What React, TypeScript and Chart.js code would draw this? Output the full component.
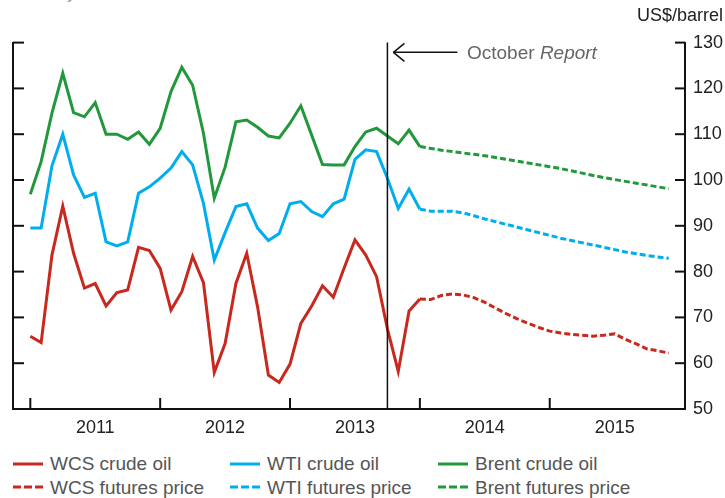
import React, { useEffect, useRef } from "react";
import { Chart, registerables } from "chart.js";

Chart.register(...registerables);

// Months indexed from January 2011 (index 0)
const yearLabels = ["2011", "2012", "2013", "2014", "2015"];
const yTicks = [50, 60, 70, 80, 90, 100, 110, 120, 130];

const wcsCrude = [
  65.9, 64.5, 83.6, 94.3, 84.0, 76.4, 77.4, 72.5, 75.4, 76.0, 85.3, 84.6,
  80.7, 71.6, 75.6, 83.3, 77.6, 58.0, 64.3, 77.4, 84.0, 72.3, 57.4, 55.8,
  59.8, 68.7, 72.5, 76.9, 74.4, 80.8, 86.9, 83.6, 78.9, 67.5, 58.2, 71.4,
  74.0,
];
const wtiCrude = [
  89.5, 89.5, 103.1, 110.0, 101.1, 96.2, 97.1, 86.5, 85.6, 86.5, 97.1, 98.5,
  100.4, 102.6, 106.2, 103.3, 94.9, 82.5, 88.5, 94.2, 94.8, 89.5, 86.8, 88.3,
  94.8, 95.3, 93.1, 92.0, 94.8, 95.8, 104.5, 106.6, 106.2, 100.4, 93.8, 98.0,
  93.6,
];
const brentCrude = [
  96.9, 104.0, 114.6, 123.3, 114.7, 113.8, 116.9, 110.0, 110.0, 108.9, 110.5, 107.8,
  111.3, 119.3, 124.6, 120.7, 110.2, 96.0, 102.8, 112.7, 113.1, 111.5, 109.6, 109.2,
  112.4, 116.2, 109.8, 103.4, 103.3, 103.3, 107.3, 110.5, 111.3, 109.6, 107.9, 110.9,
  107.3,
];

const futuresStartIndex = 36;
const wcsFutures = [
  74.0, 73.9, 74.8, 75.1, 74.9, 74.3, 73.3, 72.0, 70.8, 69.7, 68.7, 67.8,
  67.0, 66.6, 66.3, 66.1, 65.9, 66.1, 66.4, 65.2, 64.2, 63.1, 62.7, 62.2,
];
const wtiFutures = [
  93.6, 93.2, 93.2, 93.2, 92.8, 92.2, 91.5, 90.9, 90.3, 89.7, 89.1, 88.5,
  87.9, 87.3, 86.8, 86.3, 85.8, 85.3, 84.8, 84.3, 83.9, 83.5, 83.2, 82.9,
];
const brentFutures = [
  107.3, 106.9, 106.5, 106.2, 105.9, 105.6, 105.3, 104.9, 104.5, 104.1, 103.7, 103.3,
  102.9, 102.5, 102.0, 101.5, 101.0, 100.5, 100.1, 99.7, 99.3, 98.9, 98.5, 98.1,
];

const reportMonthIndex = 33; // October 2013

const RED = "#c8281e";
const BLUE = "#00aeef";
const GREEN = "#22983c";
const FONT = "'Liberation Sans', Arial, Helvetica, sans-serif";

const legendItems = [
  { label: "WCS crude oil", color: RED, dashed: false },
  { label: "WTI crude oil", color: BLUE, dashed: false },
  { label: "Brent crude oil", color: GREEN, dashed: false },
  { label: "WCS futures price", color: RED, dashed: true },
  { label: "WTI futures price", color: BLUE, dashed: true },
  { label: "Brent futures price", color: GREEN, dashed: true },
];
const legendCols = [13, 230, 438];
const legendRows = [463.5, 487];

const toPoints = (arr: number[], offset: number) =>
  arr.map((v, i) => ({ x: i + offset, y: v }));

const axisDecor = {
  id: "axisDecor",
  afterDatasetsDraw(chart: any) {
    const { ctx, chartArea, scales } = chart;
    const { left, right, top, bottom } = chartArea;
    const x = scales.x;
    const y = scales.y;
    const line = (x1: number, y1: number, x2: number, y2: number) => {
      ctx.beginPath();
      ctx.moveTo(x1, y1);
      ctx.lineTo(x2, y2);
      ctx.stroke();
    };
    ctx.save();
    ctx.strokeStyle = "#111";
    ctx.lineWidth = 2;
    yTicks.forEach((v) => {
      const py = y.getPixelForValue(v);
      line(left, py, left + 11, py);
      line(right - 10, py, right, py);
    });
    for (let k = 0; k < yearLabels.length; k++) {
      const px = x.getPixelForValue(k * 12);
      line(px, bottom, px, bottom - 11);
    }
    ctx.lineWidth = 1.5;
    const rx = x.getPixelForValue(reportMonthIndex);
    line(rx, top, rx, bottom);
    const ay = top + 9.7;
    const tip = rx + 6;
    line(tip, ay, rx + 70, ay);
    line(tip, ay, tip + 11, ay - 9);
    line(tip, ay, tip + 11, ay + 9);
    ctx.restore();
  },
};

export default function App() {
  const canvasRef = useRef<HTMLCanvasElement | null>(null);

  useEffect(() => {
    if (!canvasRef.current) return;
    Chart.defaults.font.family = FONT;
    const solid = (data: number[], color: string) => ({
      data: toPoints(data, 0),
      borderColor: color,
      backgroundColor: color,
      borderWidth: 3,
      pointRadius: 0,
      tension: 0,
      fill: false,
      yAxisID: "y",
    });
    const dashed = (data: number[], color: string) => ({
      data: toPoints(data, futuresStartIndex),
      borderColor: color,
      backgroundColor: color,
      borderWidth: 3,
      borderDash: [6, 3],
      pointRadius: 0,
      tension: 0,
      fill: false,
      yAxisID: "y",
    });
    const chart = new Chart(canvasRef.current, {
      type: "line",
      data: {
        datasets: [
          solid(wcsCrude, RED),
          solid(wtiCrude, BLUE),
          solid(brentCrude, GREEN),
          dashed(wcsFutures, RED),
          dashed(wtiFutures, BLUE),
          dashed(brentFutures, GREEN),
        ],
      },
      options: {
        animation: false,
        responsive: false,
        devicePixelRatio: 1,
        layout: { padding: { top: 42.6, left: 0, right: 0, bottom: 0 } },
        plugins: { legend: { display: false }, tooltip: { enabled: false } },
        scales: {
          x: {
            type: "linear",
            min: -1.6,
            max: 60.5,
            grid: { display: false, drawTicks: false },
            border: { display: true, color: "#111", width: 2 },
            afterBuildTicks: (s: any) => {
              s.ticks = yearLabels.map((_, k) => ({ value: k * 12 + 6 }));
            },
            ticks: {
              autoSkip: false,
              maxRotation: 0,
              padding: 8,
              color: "#222",
              font: { size: 18 },
              callback: (v: any) => yearLabels[Math.round((Number(v) - 6) / 12)],
            },
            afterFit: (s: any) => {
              s.height = 31;
            },
          },
          yL: {
            position: "left",
            min: 50,
            max: 130,
            grid: { display: false, drawTicks: false },
            border: { display: true, color: "#111", width: 2 },
            ticks: { display: false },
            afterFit: (s: any) => {
              s.width = 13;
            },
          },
          y: {
            position: "right",
            min: 50,
            max: 130,
            grid: { display: false, drawTicks: false },
            border: { display: true, color: "#111", width: 2 },
            afterBuildTicks: (s: any) => {
              s.ticks = yTicks.map((v) => ({ value: v }));
            },
            ticks: { padding: 8, color: "#222", font: { size: 18 } },
            afterFit: (s: any) => {
              s.width = 40;
            },
          },
        },
      } as any,
      plugins: [axisDecor],
    });
    return () => chart.destroy();
  }, []);

  return (
    <div
      style={{
        position: "absolute",
        left: 0,
        top: 0,
        width: 725,
        height: 498,
        overflow: "hidden",
        background: "#fff",
        fontFamily: FONT,
      }}
    >
      <div
        style={{
          position: "absolute",
          left: 13,
          top: -17,
          fontSize: 18,
          lineHeight: "18px",
          color: "#9a9a9a",
          whiteSpace: "nowrap",
        }}
      >
        Monthly data
      </div>
      <canvas
        ref={canvasRef}
        width={725}
        height={440}
        style={{ position: "absolute", left: 0, top: 0 }}
      />
      <div
        style={{
          position: "absolute",
          right: 2,
          top: 6,
          fontSize: 18,
          lineHeight: "18px",
          color: "#222",
          whiteSpace: "nowrap",
        }}
      >
        US$/barrel
      </div>
      <div
        style={{
          position: "absolute",
          left: 467,
          top: 43,
          fontSize: 19,
          lineHeight: "19px",
          color: "#666",
          whiteSpace: "nowrap",
        }}
      >
        October <i>Report</i>
      </div>
      {legendItems.map((it, idx) => {
        const col = idx % 3;
        const row = Math.floor(idx / 3);
        return (
          <div
            key={it.label}
            style={{
              position: "absolute",
              left: legendCols[col],
              top: legendRows[row] - 9.5,
              height: 19,
              display: "flex",
              alignItems: "center",
              whiteSpace: "nowrap",
            }}
          >
            <svg width={30} height={4} style={{ display: "block" }}>
              <line
                x1={0}
                y1={2}
                x2={30}
                y2={2}
                stroke={it.color}
                strokeWidth={3}
                strokeDasharray={it.dashed ? "8 3" : undefined}
              />
            </svg>
            <span
              style={{
                marginLeft: 7,
                fontSize: 19,
                lineHeight: "19px",
                color: "#555",
              }}
            >
              {it.label}
            </span>
          </div>
        );
      })}
    </div>
  );
}
